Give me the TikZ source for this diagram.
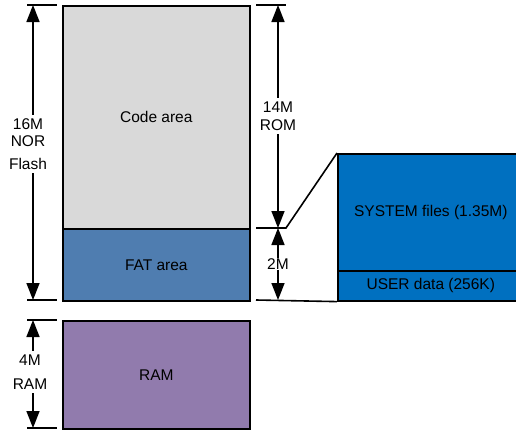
\documentclass[tikz,border=0pt]{standalone}
\usepackage{fontspec}
\setmainfont{Liberation Sans}
\usetikzlibrary{arrows.meta}

\definecolor{codegray}{HTML}{D9D9D9}
\definecolor{fatblue}{HTML}{4F7DB0}
\definecolor{rampurple}{HTML}{917BAD}
\definecolor{sysblue}{HTML}{0070C0}

\begin{document}
\begin{tikzpicture}[x=1pt, y=-1pt,
	area/.style = {draw, line width = 1.6pt, inner sep = 0pt, anchor = north west,
		font = \fontsize{15.5}{18}\selectfont},
	dim/.style = {{Triangle[width=13pt,length=17pt]}-{Triangle[width=13pt,length=17pt]}, line width = 1.6pt},
	tick/.style = {line width = 1.6pt},
	dimlabel/.style = {fill = white, align = center, inner xsep = 1pt, inner ysep = 4pt,
		font = \fontsize{15.5}{17.5}\selectfont}]
	\useasboundingbox (0,0) rectangle (516,431);

	% memory blocks
	\node [area, fill = codegray, minimum width = 187pt, minimum height = 223pt] (code) at (62,5) {Code area};
	\node [area, fill = fatblue, minimum width = 187pt, minimum height = 72pt] (fat) at (62,228) {FAT area};
	\node [area, fill = rampurple, minimum width = 187pt, minimum height = 108pt] (ram) at (62,320) {RAM};

	% FAT area detail
	\node [area, fill = sysblue, minimum width = 186pt, minimum height = 117pt] (system) at (337,153) {SYSTEM files (1.35M)};
	\node [area, fill = sysblue, minimum width = 186pt, minimum height = 30pt] (user) at (337,270) {USER data (256K)};

	% ticks
	\draw [tick] (27,5) -- (57,5);
	\draw [tick] (27,300) -- (57,300);
	\draw [tick] (27,320) -- (57,320);
	\draw [tick] (27,428) -- (57,428);
	\draw [tick] (256,5) -- (286,5);
	\draw [tick] (256,228) -- (286,228) -- (system.north west);
	\draw [tick] (256,300) -- (user.south west);

	% dimension arrows
	\coordinate (flashtop) at (33,5);
	\coordinate (flashbot) at (33,300);
	\coordinate (ramtop) at (33,320);
	\coordinate (rambot) at (33,428);
	\coordinate (romtop) at (278,5);
	\coordinate (rombot) at (278,228);
	\coordinate (fatbot) at (278,300);
	\draw [dim] (flashtop) -- (flashbot);
	\draw [dim] (ramtop) -- (rambot);
	\draw [dim] (romtop) -- (rombot);
	\draw [dim] (rombot) -- (fatbot);

	% labels
	\node [dimlabel] (flashlbl) at (28,144) {16M\\NOR\\[5pt]Flash};
	\node [dimlabel] (romlbl) at (278,116) {14M\\ROM};
	\node [dimlabel, inner ysep = 1pt] (fatlbl) at (278,264) {2M};
	\node [dimlabel] (ramlbl) at (30,372) {4M\\[6pt]RAM};
\end{tikzpicture}
\end{document}
